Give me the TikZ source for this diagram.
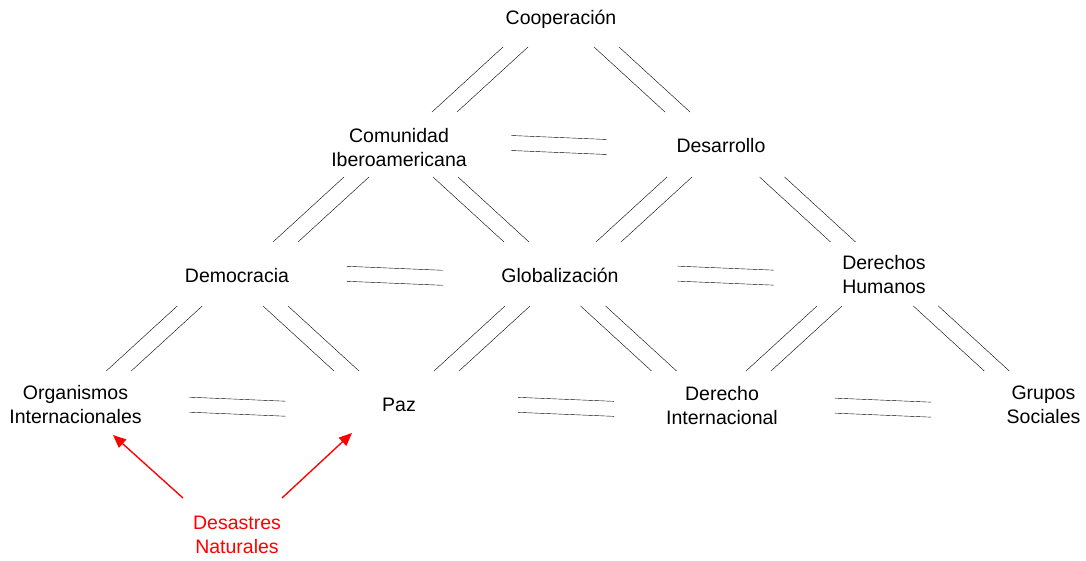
\documentclass[tikz,border=0pt]{standalone}
\usepackage{fontspec}
\setmainfont{Liberation Sans}
\usetikzlibrary{calc,arrows.meta}
\begin{document}
\begin{tikzpicture}[x=1pt,y=-1pt,
  concept/.style={font=\fontsize{19.5}{24.5}\selectfont, align=center, inner sep=0pt, anchor=base},
  risk/.style={concept, text=red},
  link/.style={draw=black, line width=1.35pt},
  pairdx/.store in=\pairdx, pairdy/.store in=\pairdy, pairdx=0, pairdy=0,
  rise pair/.style={link, to path={
      ($(\tikztostart.base)!.5!(\tikztotarget.base)+(\pairdx,\pairdy)$) coordinate (pm)
      ($(pm)+(-48,32.5)$) -- ($(pm)+(23,-32.5)$)
      ($(pm)+(-23,32.5)$) -- ($(pm)+(48,-32.5)$)}},
  fall pair/.style={link, to path={
      ($(\tikztostart.base)!.5!(\tikztotarget.base)+(\pairdx,\pairdy)$) coordinate (pm)
      ($(pm)+(-48,-32.5)$) -- ($(pm)+(23,32.5)$)
      ($(pm)+(-23,-32.5)$) -- ($(pm)+(48,32.5)$)}},
  flat pair/.style={link, to path={
      ($(\tikztostart.base)!.5!(\tikztotarget.base)+(\pairdx,\pairdy)$) coordinate (pm)
      ($(pm)+(-48,-9.5)$) -- ($(pm)+(48,-5.5)$)
      ($(pm)+(-48,5.5)$) -- ($(pm)+(48,9.5)$)}},
  cause/.style={draw=red, line width=1.35pt, -{Triangle[length=13pt,width=11pt]}},
]
\useasboundingbox (0,0) rectangle (1086,561);

% concepts (anchored at the baseline of their last line)
\node[concept] (coop) at (561,24.3)     {Cooperación};
\node[concept] (comu) at (399,167)      {Comunidad\\Iberoamericana};
\node[concept] (desa) at (721,152.3)    {Desarrollo};
\node[concept] (demo) at (237,282.3)    {Democracia};
\node[concept] (glob) at (560,282.3)    {Globalización};
\node[concept] (dh)   at (884,293.5)    {Derechos\\Humanos};
\node[concept] (org)  at (75.5,423.8)   {Organismos\\Internacionales};
\node[concept] (paz)  at (399,411.7)    {Paz};
\node[concept] (di)   at (722,424.5)    {Derecho\\Internacional};
\node[concept] (gs)   at (1043.5,423.5) {Grupos\\Sociales};
\node[risk]    (dn)   at (237,553.6)    {Desastres\\Naturales};

% double links between concepts
\draw (coop) to[rise pair, pairdx=0,    pairdy=-16.15] (comu);
\draw (coop) to[fall pair, pairdx=1,    pairdy=-8.8]   (desa);
\draw (comu) to[flat pair, pairdx=-1,   pairdy=-14.65] (desa);
\draw (comu) to[rise pair, pairdx=3,    pairdy=-15.15] (demo);
\draw (comu) to[fall pair, pairdx=1.5,  pairdy=-15.15] (glob);
\draw (desa) to[rise pair, pairdx=3.5,  pairdy=-7.8]   (glob);
\draw (desa) to[fall pair, pairdx=5,    pairdy=-13.45] (dh);
\draw (demo) to[flat pair, pairdx=-3.5, pairdy=-6.5]   (glob);
\draw (glob) to[flat pair, pairdx=3.5,  pairdy=-12.25] (dh);
\draw (demo) to[rise pair, pairdx=-2,   pairdy=-14.55] (org);
\draw (demo) to[fall pair, pairdx=-7,   pairdy=-8.5]   (paz);
\draw (glob) to[rise pair, pairdx=2.5,  pairdy=-8.5]   (paz);
\draw (glob) to[fall pair, pairdx=-12.5,pairdy=-14.95] (di);
\draw (dh)   to[rise pair, pairdx=-9,   pairdy=-20.5]  (di);
\draw (dh)   to[fall pair, pairdx=-2.5, pairdy=-20.05] (gs);
\draw (org)  to[flat pair, pairdx=0,    pairdy=-11.05] (paz);
\draw (paz)  to[flat pair, pairdx=5.5,  pairdy=-11.25] (di);
\draw (di)   to[flat pair, pairdx=0,    pairdy=-16.35] (gs);

% natural disasters affect
\draw[cause] ([shift={(-54,-55.6)}]dn.base) -- ([shift={(37.5,11.2)}]org.base);
\draw[cause] ([shift={(45,-55.6)}]dn.base)  -- ([shift={(-47,21.3)}]paz.base);
\end{tikzpicture}
\end{document}
